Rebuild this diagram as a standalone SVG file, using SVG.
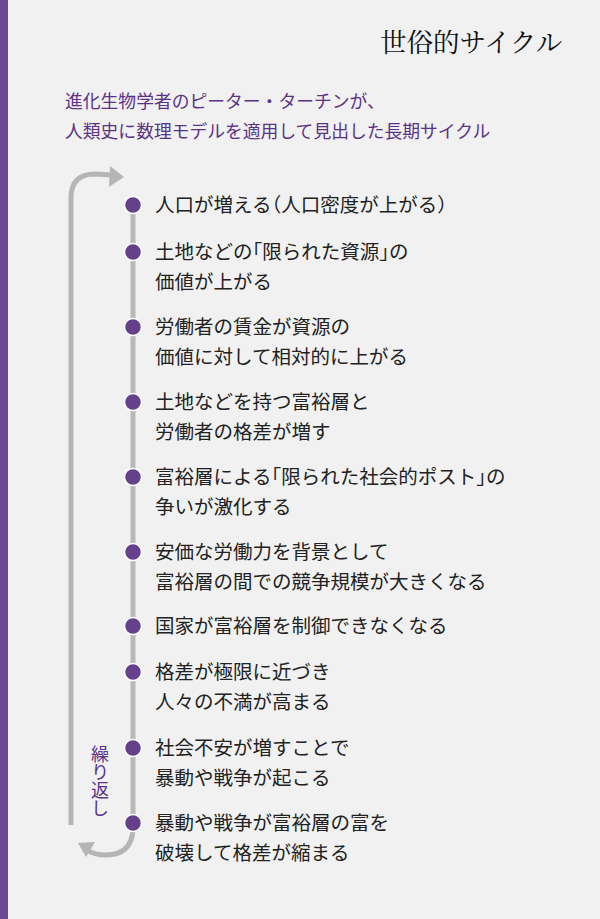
<svg xmlns="http://www.w3.org/2000/svg" width="600" height="919" viewBox="0 0 600 919">
<style>
  .bg{fill:#f0f1f0}
  .bar{fill:#6b4a93}
  .title{font-family:"Noto Serif CJK JP","Noto Sans CJK JP",serif;font-size:26.5px;fill:#111}
  .sub{font-family:"Noto Sans CJK JP",sans-serif;font-size:17.8px;fill:#5c3289}
  .item{font-family:"Noto Sans CJK JP",sans-serif;font-size:19.5px;fill:#222}
  .hw{font-feature-settings:"halt"}
  .dot{fill:#65418c;stroke:#ffffff;stroke-width:1.5}
  .rail{stroke:#b8b8b8;stroke-width:5;fill:none;stroke-linecap:butt}
  .loop{stroke:#b5b5b5;stroke-width:5;fill:none}
  .head{fill:#b5b5b5}
  .rep{font-family:"Noto Sans CJK JP",sans-serif;font-size:18px;fill:#5c3289;writing-mode:vertical-rl}
</style>
<rect class="bg" x="0" y="0" width="600" height="919"/>
<rect class="bar" x="0" y="0" width="8" height="919"/>

<g id="title"><text class="title" x="380" y="52">世俗的サイクル</text></g>
<g id="subtitle">
  <text class="sub" x="65" y="108">進化生物学者のピーター・ターチンが、</text>
  <text class="sub" x="65" y="138">人類史に数理モデルを適用して見出した長期サイクル</text>
</g>

<g id="connectors">
  <line class="rail" x1="133" y1="205" x2="133" y2="823"/>
  <path class="loop" d="M71,825 L71,198 Q71,174 95,174 L112,175"/>
  <polygon class="head" points="124,177 110,166 109,187"/>
  <path class="loop" d="M133,830 Q131,855 106,855 Q94,855 87,850"/>
  <polygon class="head" points="78,843 95,842 86,857"/>
</g>

<g id="repeat-label"><text class="rep" x="100" y="745">繰り返し</text></g>

<g id="n1"><circle class="dot" cx="133" cy="205" r="8.5"/>
  <text class="item" x="155" y="212">人口が増える<tspan class="hw">（</tspan>人口密度が上がる<tspan class="hw">）</tspan></text></g>
<g id="n2"><circle class="dot" cx="133" cy="252" r="8.5"/>
  <text class="item" x="155" y="259">土地などの<tspan class="hw">「</tspan>限られた資源<tspan class="hw">」</tspan>の</text>
  <text class="item" x="155" y="289">価値が上がる</text></g>
<g id="n3"><circle class="dot" cx="133" cy="327" r="8.5"/>
  <text class="item" x="155" y="334">労働者の賃金が資源の</text>
  <text class="item" x="155" y="364">価値に対して相対的に上がる</text></g>
<g id="n4"><circle class="dot" cx="133" cy="402" r="8.5"/>
  <text class="item" x="155" y="409">土地などを持つ富裕層と</text>
  <text class="item" x="155" y="439">労働者の格差が増す</text></g>
<g id="n5"><circle class="dot" cx="133" cy="477" r="8.5"/>
  <text class="item" x="155" y="484">富裕層による<tspan class="hw">「</tspan>限られた社会的ポスト<tspan class="hw">」</tspan>の</text>
  <text class="item" x="155" y="514">争いが激化する</text></g>
<g id="n6"><circle class="dot" cx="133" cy="552" r="8.5"/>
  <text class="item" x="155" y="559">安価な労働力を背景として</text>
  <text class="item" x="155" y="589">富裕層の間での競争規模が大きくなる</text></g>
<g id="n7"><circle class="dot" cx="133" cy="626" r="8.5"/>
  <text class="item" x="155" y="633">国家が富裕層を制御できなくなる</text></g>
<g id="n8"><circle class="dot" cx="133" cy="672" r="8.5"/>
  <text class="item" x="155" y="679">格差が極限に近づき</text>
  <text class="item" x="155" y="709">人々の不満が高まる</text></g>
<g id="n9"><circle class="dot" cx="133" cy="748" r="8.5"/>
  <text class="item" x="155" y="755">社会不安が増すことで</text>
  <text class="item" x="155" y="785">暴動や戦争が起こる</text></g>
<g id="n10"><circle class="dot" cx="133" cy="823" r="8.5"/>
  <text class="item" x="155" y="830">暴動や戦争が富裕層の富を</text>
  <text class="item" x="155" y="860">破壊して格差が縮まる</text></g>
</svg>
